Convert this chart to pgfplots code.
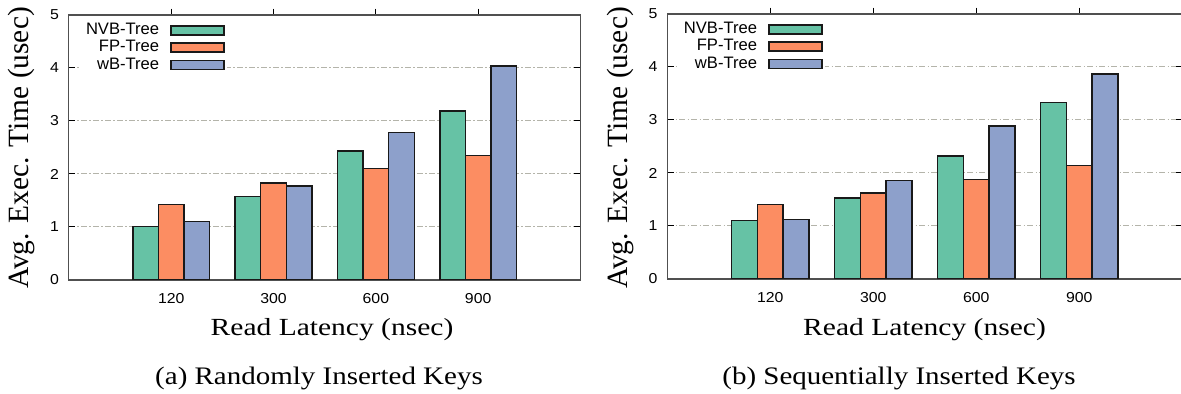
\documentclass[border=0pt]{standalone}
\usepackage{fontspec}
\setmainfont{Liberation Serif}
\setsansfont{Liberation Sans}
\usepackage{pgfplots}
\pgfplotsset{compat=1.18}
\definecolor{cNVB}{RGB}{102,194,165}
\definecolor{cFP}{RGB}{252,141,98}
\definecolor{cWB}{RGB}{141,160,203}
\definecolor{axgray}{RGB}{80,80,80}
\definecolor{gridgray}{RGB}{180,180,170}
\pgfplotsset{
  mybar/.style={
    scale only axis,
    height=132.5pt,
    xmin=0, xmax=5, ymin=0, ymax=5,
    xtick={1,2,3,4}, xticklabels={120,300,600,900},
    ytick={0,1,2,3,4,5},
    ymajorgrids,
    major grid style={gridgray, line width=0.5pt, dash pattern=on 3pt off 1.2pt on 0.6pt off 1.2pt},
    axis line style={axgray, line width=0.6pt},
    tick style={black, line width=0.5pt},
    major tick length=3.2pt,
    tick align=inside,
    xtick pos=right, xticklabel pos=left,
    ytick pos=both, yticklabel pos=left,
    ticklabel style={font=\sffamily\fontsize{7.2}{8}\selectfont, xscale=1.1},
    yticklabel style={xshift=-1pt},
    /pgf/number format/assume math mode=true,
    ybar=0pt, bar width=0.25,
    legend plot pos=right,
    legend cell align=right,
    legend style={draw=none, fill=white, font=\sffamily\fontsize{8.3}{9}\selectfont,
      nodes={font=\sffamily\fontsize{8.3}{9}\selectfont},
      anchor=north east, at={(0.309,0.993)}, row sep=-2.6pt, column sep=3.5pt, inner sep=1pt},
    legend image code/.code={\draw[#1] (0pt,-2.25pt) rectangle (26.5pt,2.25pt);},
  },
  barNVB/.style={fill=cNVB, draw=black!90, line width=0.7pt},
  barFP/.style={fill=cFP, draw=black!90, line width=0.7pt},
  barWB/.style={fill=cWB, draw=black!90, line width=0.7pt},
}
\begin{document}
\begin{tikzpicture}
\useasboundingbox (0,0) rectangle (590.5pt,197pt);
\begin{axis}[mybar, at={(34.45pt,57pt)}, anchor=south west, width=255.8pt]
\addplot[barNVB] coordinates {(1,1.01) (2,1.57) (3,2.43) (4,3.19)};
\addplot[barFP] coordinates {(1,1.42) (2,1.83) (3,2.10) (4,2.35)};
\addplot[barWB] coordinates {(1,1.10) (2,1.77) (3,2.78) (4,4.04)};
\legend{NVB-Tree,FP-Tree,wB-Tree}
\end{axis}
\begin{axis}[mybar, at={(333.65pt,57.5pt)}, anchor=south west, width=257.5pt, legend style={at={(0.306,0.993)}}]
\addplot[barNVB] coordinates {(1,1.10) (2,1.53) (3,2.32) (4,3.33)};
\addplot[barFP] coordinates {(1,1.41) (2,1.62) (3,1.88) (4,2.14)};
\addplot[barWB] coordinates {(1,1.12) (2,1.86) (3,2.89) (4,3.87)};
\legend{NVB-Tree,FP-Tree,wB-Tree}
\end{axis}
\node[rotate=90, font=\fontsize{14.7}{16}\selectfont] at (10.75pt,123pt) {Avg. Exec. Time (usec)};
\node[rotate=90, font=\fontsize{14.7}{16}\selectfont] at (310pt,123pt) {Avg. Exec. Time (usec)};
\node[anchor=base, font=\fontsize{12.3}{14}\selectfont, xscale=1.2] at (166pt,29.15pt) {Read Latency (nsec)};
\node[anchor=base, font=\fontsize{12.3}{14}\selectfont, xscale=1.2] at (462.25pt,29.15pt) {Read Latency (nsec)};
\node[anchor=base, font=\fontsize{12.6}{14}\selectfont, xscale=1.15] at (159.5pt,4.5pt) {(a) Randomly Inserted Keys};
\node[anchor=base, font=\fontsize{12.6}{14}\selectfont, xscale=1.15] at (449.5pt,4.5pt) {(b) Sequentially Inserted Keys};
\end{tikzpicture}
\end{document}
